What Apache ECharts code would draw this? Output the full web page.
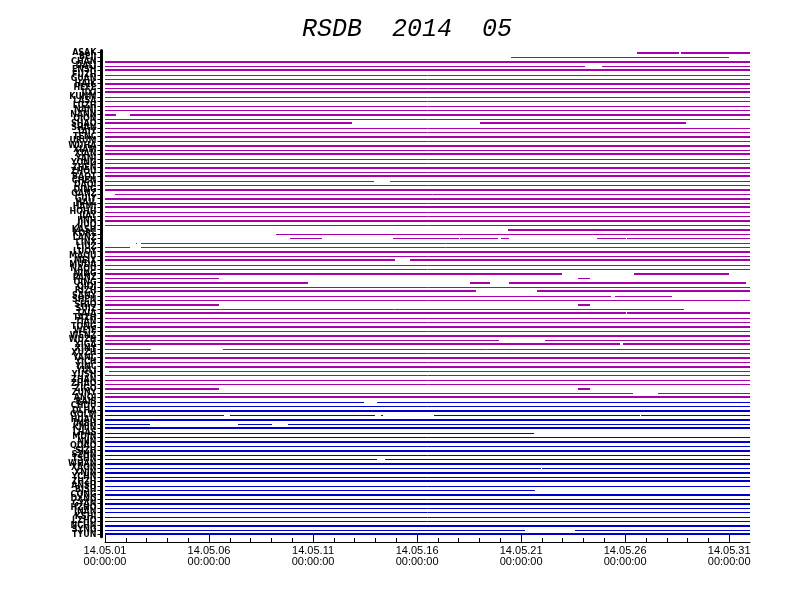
<!DOCTYPE html>
<html><head><meta charset="utf-8">
<script src="https://cdn.jsdelivr.net/npm/echarts@6/dist/echarts.min.js"></script>
<style>html,body{margin:0;padding:0;background:#fff}#c{width:792px;height:612px}</style>
</head><body><div id="c"></div>
<script>
// ---- data ----
const titleText = 'RSDB  2014  05';
const stations = [
 'ASAK','BEIJ','CHAN','DALI','ENSH','FUZH','GUAN','HAIK','HEFE','JIXI',
 'KUNM','LASA','LUZH','NANJ','NANN','QION','SHAO','SHAN','TAIY','TENC',
 'URUM','WUHA','XIAM','XIAN','YANJ','YONG','ZHEN','ZHOU','BAOT','CHEN',
 'DAQI','DING','GANZ','GUIY','HAIL','HAMI','HOHH','JIAY','JINH','JIUQ',
 'KASH','KORL','LANZ','LINX','LIUZ','LUOY','MAQU','MEIX','MUDA','NAQU',
 'NING','PANZ','QING','QIQI','RIZH','SANY','SHEN','SHIQ','SUIZ','TAIA',
 'TAZH','TIAN','TONG','WEIF','WENZ','WUZH','XIGA','XINY','XUZH','YANC',
 'YICH','YINC','YULI','YUSH','ZHAN','ZHAO','ZIGO','ZUNY','ANQI','BAIS',
 'CHDU','DLHA','GOLM','HUAN','JMSH','KMIN','LHAS','MDJN','NJIN','QDAO',
 'SJZH','SZHN','TSHN','WHAN','XAGN','XNIN','YCHN','ZHZH','ANSH','BJSH',
 'CQNG','DXNG','GYAN','HZHO','JNAN','KSHI','LZHO','NCHN','SYNG','TYUN'
];
// days since 14.05.01 00:00
const F = [[0, 31]];
const magentaSegs = [
 [[25.55,27.57],[27.67,31]],
 [[19.5,30.0]],
 F,
 [[0,23.05],[23.87,31]],
 F,F,F,F,F,F,F,F,F,F,
 [[0,0.53],[1.2,31]],
 F,
 [[0,11.85],[18.0,27.91]],
 F,F,F,F,F,F,F,F,F,F,F,F,
 [[0,12.91],[13.71,31]],
 F,F,
 [[0.49,31]],
 F,F,F,F,F,F,F,
 [[19.35,31]],
 [[8.23,31]],
 [[8.91,10.44],[13.86,14.88],[14.92,16.99],[17.04,18.91],[19.02,19.41],[23.63,25.03],[25.07,31]],
 [[1.49,1.55],[1.73,31]],
 [[0,1.2],[1.73,31]],
 F,F,
 [[0,13.92],[14.64,31]],
 F,F,
 [[0,21.96],[25.42,29.98]],
 [[0,5.5],[22.72,23.31]],
 [[0,9.74],[17.52,18.48],[19.44,30.8]],
 F,
 [[0,17.85],[20.74,31]],
 [[0,24.31],[24.49,27.25]],
 F,
 [[0,5.5],[22.72,23.31]],
 [[0,27.83]],
 [[0,25.02],[25.1,31]],
 F,F,F,F,F,
 [[0,18.92],[21.17,31]],
 [[0,24.73],[24.89,31]],
 [[0,2.22],[5.68,31]],
 F,F,F,F,
 [[0.21,31]],
 F,F,F,
 [[0,5.5],[22.71,23.29]],
 [[0,25.37],[26.56,31]],
 F
];
const blueSegs = [
 [[0,12.47],[13.09,31]],
 F,F,
 [[0,5.74],[6.02,12.99],[13.28,13.35],[15.83,25.7],[25.76,31]],
 F,
 [[0,2.18],[6.4,8.05],[8.81,10.36],[10.39,31]],
 F,
 [[0,20.61]],
 F,F,F,F,F,
 [[0,13.09],[13.44,31]],
 F,
 [[0,20.95],[20.99,31]],
 F,F,F,F,
 [[0,20.65]],
 F,F,F,F,F,F,F,F,
 [[0,20.21],[22.58,31]],
 F
];
// rows recorded at high rate (drawn heavier)
const highRateRows = [0,2,4,7,9,14,16,19,21,23,26,28,31,33,35,38,40,45,47,50,52,54,57,59,62,64,66,69,71,76,78,81,83,85,88,90,93,95,97,100,102,107,109];
const tickDays = [0,5,10,15,20,25,30];
const tickLabels = ['14.05.01\n00:00:00','14.05.06\n00:00:00','14.05.11\n00:00:00','14.05.16\n00:00:00','14.05.21\n00:00:00','14.05.26\n00:00:00','14.05.31\n00:00:00'];
const dayTicks = [];
for (let d = 0; d <= 30; d++) dayTicks.push(d);

// ---- build ----
const allSegs = magentaSegs.concat(blueSegs);
const data = [];
allSegs.forEach((segs, row) => {
  segs.forEach(s => data.push([s[0], s[1], row, highRateRows.indexOf(row) >= 0 ? 1 : 0, row < magentaSegs.length ? 0 : 1]));
});
const colors = ['#aa00aa', '#0000cc'];

function renderItem(params, api) {
  const row = api.value(2);
  const a = api.coord([api.value(0), row]);
  const b = api.coord([api.value(1), row]);
  const w = api.value(3) ? 2 : 1;
  let y = Math.round(a[1]);
  if (w === 1) y += 0.5;
  return {
    type: 'line',
    shape: { x1: Math.round(a[0]), y1: y, x2: Math.max(Math.round(b[0]), Math.round(a[0]) + 1), y2: y },
    style: { stroke: colors[api.value(4)], lineWidth: w }
  };
}

const chart = echarts.init(document.getElementById('c'), null, { renderer: 'canvas' });
chart.setOption({
  animation: false,
  backgroundColor: '#fff',
  title: {
    text: titleText, left: 297, top: 12,
    textStyle: { fontFamily: 'Liberation Mono', fontStyle: 'italic', fontWeight: 'normal', fontSize: 25, color: '#000' }
  },
  grid: [
    { left: 105, right: 42, top: 50.5, height: 491.5 },
    { left: 105, right: 42, top: 50.5, height: 486.2 }
  ],
  xAxis: [
    { gridIndex: 0, type: 'value', min: 0, max: 31, position: 'bottom',
      axisLine: { show: true, onZero: false, lineStyle: { color: '#000', width: 1 } },
      axisTick: { show: true, inside: true, length: 4, customValues: dayTicks, lineStyle: { color: '#000' } },
      axisLabel: { show: true, customValues: tickDays, margin: 4, color: '#000', fontSize: 11, lineHeight: 10.5,
        fontFamily: 'Liberation Sans',
        formatter: v => tickLabels[tickDays.indexOf(Math.round(v))] || '' },
      splitLine: { show: false } },
    { gridIndex: 1, type: 'value', min: 0, max: 31, position: 'bottom', offset: 5.3,
      axisLine: { show: false, onZero: false },
      axisTick: { show: true, inside: true, length: 7, customValues: tickDays, lineStyle: { color: '#000' } },
      axisLabel: { show: false }, splitLine: { show: false } }
  ],
  yAxis: [
    { gridIndex: 0, type: 'value', inverse: true, min: -0.5, max: 110.7, show: false },
    { gridIndex: 1, type: 'category', inverse: true, data: stations, offset: 3.5,
      axisLine: { show: true, onZero: false, lineStyle: { color: '#000', width: 3 } },
      axisTick: { show: true, alignWithLabel: true, length: 4, lineStyle: { color: '#000' } },
      axisLabel: { interval: 0, margin: 5, fontSize: 8, fontWeight: 'bold', fontFamily: 'DejaVu Sans', color: '#000' },
      splitLine: { show: false } }
  ],
  series: [{
    type: 'custom', xAxisIndex: 0, yAxisIndex: 0, renderItem: renderItem,
    encode: { x: [0, 1], y: 2 }, data: data, clip: false
  }]
});
</script></body></html>
